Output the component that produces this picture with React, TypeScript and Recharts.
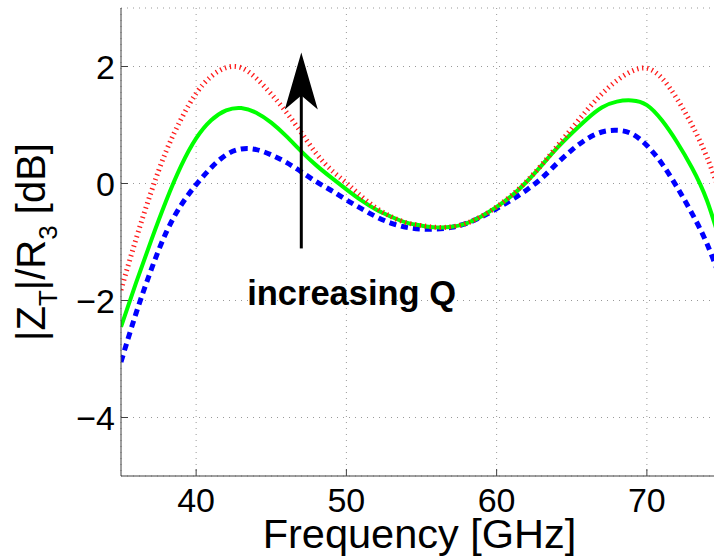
import React from 'react';
import { LineChart, Line, XAxis, YAxis, CartesianGrid, ReferenceLine, ReferenceDot } from 'recharts';

// frequency in GHz
const freqs = [
  35, 36, 37, 38, 39, 40, 41, 42, 43, 44, 45, 46, 47, 48, 49, 50, 51, 52, 53, 54, 55,
  56, 57, 58, 59, 60, 61, 62, 63, 64, 65, 66, 67, 68, 69, 70, 71, 72, 73, 74, 75,
];

// |ZT|/R3 in dB for three Q values
const lowQ = [
  -3.05, -2.22, -1.48, -0.84, -0.37, -0.02, 0.27, 0.49, 0.59, 0.58, 0.49, 0.36, 0.2, 0.03, -0.12, -0.28, -0.43, -0.57, -0.68, -0.75, -0.78,
  -0.78, -0.75, -0.68, -0.57, -0.43, -0.28, -0.11, 0.09, 0.34, 0.57, 0.76, 0.88, 0.91, 0.85, 0.65, 0.34, -0.06, -0.51, -1.03, -1.7,
];
const midQ = [
  -2.45, -1.7, -0.98, -0.3, 0.3, 0.77, 1.08, 1.25, 1.29, 1.21, 1.04, 0.81, 0.55, 0.31, 0.1, -0.1, -0.29, -0.45, -0.57, -0.67, -0.72,
  -0.75, -0.74, -0.68, -0.56, -0.4, -0.21, 0.03, 0.31, 0.6, 0.86, 1.1, 1.3, 1.4, 1.42, 1.34, 1.08, 0.71, 0.27, -0.29, -1.1,
];
const highQ = [
  -1.82, -0.95, -0.15, 0.55, 1.1, 1.54, 1.83, 1.98, 1.98, 1.8, 1.53, 1.22, 0.87, 0.51, 0.23, 0.01, -0.22, -0.42, -0.57, -0.67, -0.72,
  -0.75, -0.74, -0.68, -0.56, -0.4, -0.2, 0.04, 0.32, 0.63, 0.94, 1.25, 1.53, 1.76, 1.92, 1.97, 1.8, 1.45, 1.0, 0.45, -0.25,
];

const xTicks = [40, 50, 60, 70];
const yTicks = [-4, -2, 0, 2];

// annotation anchors (data units)
const arrowX = 47;
const arrowFrom = -1.11;
const arrowShaftTo = 1.6;
const arrowTip = 2.24;
const noteX = 50.35;
const noteY = -2.08;

const data = freqs.map((f, i) => ({ f, low: lowQ[i], mid: midQ[i], high: highQ[i] }));

const font = 'Liberation Sans, Arial, Helvetica, sans-serif';
const axisColor = '#404040';

const fmtTick = (v: number) => (v < 0 ? `\u2212${Math.abs(v)}` : `${v}`);

const XTitle = (props: any) => {
  const vb = props.viewBox || { x: 121, y: 476, width: 601, height: 84 };
  return (
    <text x={vb.x + vb.width / 2 - 2} y={vb.y + 72} textAnchor="middle" fontSize={41.5} fontFamily={font} fill="#000">
      Frequency [GHz]
    </text>
  );
};

const YTitle = (props: any) => {
  const vb = props.viewBox || { x: 0, y: 8, width: 121, height: 468 };
  const x = vb.x + 45;
  const y = vb.y + vb.height / 2;
  return (
    <text x={x} y={y} transform={`rotate(-90, ${x}, ${y})`} textAnchor="middle" fontSize={40} fontFamily={font} fill="#000">
      |Z<tspan fontSize={26} dy={12}>T</tspan>
      <tspan dy={-12}>|/R</tspan>
      <tspan fontSize={26} dy={12}>3</tspan>
      <tspan dy={-12}> [dB]</tspan>
    </text>
  );
};

const ArrowHead = (props: any) => {
  const { cx, cy } = props;
  return (
    <polygon
      points={`${cx},${cy} ${cx + 16.5},${cy + 57} ${cx},${cy + 43} ${cx - 16.5},${cy + 57}`}
      fill="#000"
    />
  );
};

const Note = (props: any) => {
  const { cx, cy } = props;
  return (
    <text x={cx} y={cy} textAnchor="middle" fontSize={34.5} fontWeight="bold" fontFamily={font} fill="#000">
      increasing Q
    </text>
  );
};

export default function App() {
  return (
    <div style={{ position: 'absolute', left: 0, top: 0, width: 714, height: 560, overflow: 'hidden', background: '#fff' }}>
      <LineChart width={722} height={560} data={data} margin={{ top: 8, right: 0, bottom: 0, left: 0 }}>
        <CartesianGrid stroke="#999" strokeDasharray="1 5" />
        <XAxis
          dataKey="f"
          type="number"
          domain={[35, 75]}
          ticks={xTicks}
          interval={0}
          allowDataOverflow
          height={84}
          tickSize={-7}
          tickMargin={19}
          stroke={axisColor}
          tick={{ fill: '#000', fontSize: 34, fontFamily: font }}
          label={XTitle}
        />
        <YAxis
          type="number"
          domain={[-5, 3]}
          ticks={yTicks}
          interval={0}
          allowDataOverflow
          width={121}
          tickSize={-7}
          tickMargin={13}
          stroke={axisColor}
          tickFormatter={fmtTick}
          tick={{ fill: '#000', fontSize: 34, fontFamily: font }}
          label={YTitle}
        />
        <Line
          dataKey="low"
          type="natural"
          stroke="#0000ff"
          strokeWidth={5}
          strokeDasharray="7 5"
          dot={false}
          isAnimationActive={false}
        />
        <Line dataKey="mid" type="natural" stroke="#00ff00" strokeWidth={4} dot={false} isAnimationActive={false} />
        <Line
          dataKey="high"
          type="natural"
          stroke="#ff1a1a"
          strokeWidth={5}
          strokeDasharray="1.3 3.7"
          dot={false}
          isAnimationActive={false}
        />
        <ReferenceLine
          segment={[
            { x: arrowX, y: arrowFrom },
            { x: arrowX, y: arrowShaftTo },
          ]}
          stroke="#000"
          strokeWidth={3}
        />
        <ReferenceDot x={arrowX} y={arrowTip} shape={ArrowHead} />
        <ReferenceDot x={noteX} y={noteY} shape={Note} />
      </LineChart>
    </div>
  );
}
